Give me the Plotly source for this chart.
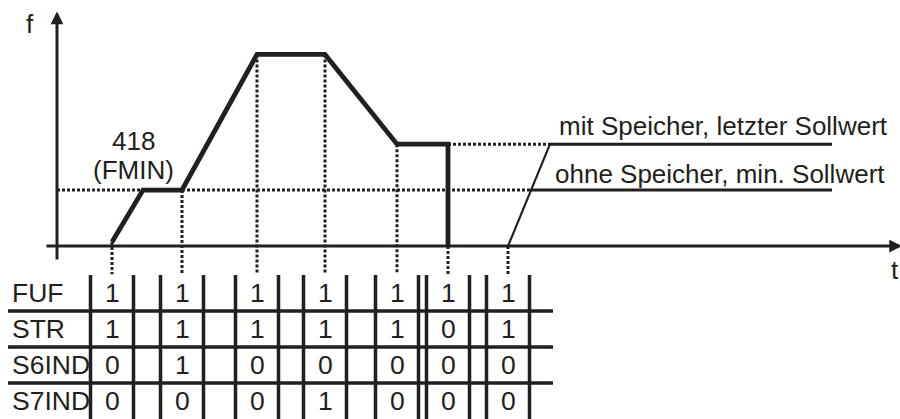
import plotly.graph_objects as go

# frequency course over time (t in s, f in Hz)
t_curve = [5.5, 8.6, 12.5, 20.0, 26.8, 34.0, 39.1, 39.1]
f_curve = [30, 418, 418, 1430, 1430, 760, 760, 0]

f_min = 418   # FMIN
f_mem = 760   # last setpoint (with memory)

# restart after the next start command
t_restart = [45.1, 49.3, 77.5]
f_restart = [0, f_mem, f_mem]
t_fmin_line = [47.4, 77.5]

# times where the status table is read, and f at those times
t_events = [5.5, 12.5, 20.0, 26.8, 34.0, 39.1, 45.1]
f_events = [30, 418, 1430, 1430, 760, 0, 0]

rows = ['FUF', 'STR', 'S6IND', 'S7IND']
FUF = [1, 1, 1, 1, 1, 1, 1]
STR = [1, 1, 1, 1, 1, 0, 1]
S6IND = [0, 1, 0, 0, 0, 0, 0]
S7IND = [0, 0, 0, 1, 0, 0, 0]
table = [FUF, STR, S6IND, S7IND]

ink = '#231f20'
font_name = 'Liberation Sans, Arial, sans-serif'
fs = 26
dots = '3px,2px'
f_bottom = -210
cell_w = 2.15

fig = go.Figure()

# dotted guide lines
fig.add_trace(go.Scatter(x=[0, t_fmin_line[0]], y=[f_min, f_min], mode='lines',
                         line=dict(color=ink, width=3, dash=dots)))
fig.add_trace(go.Scatter(x=[t_curve[-1], t_restart[1]], y=[f_mem, f_mem], mode='lines',
                         line=dict(color=ink, width=3, dash=dots)))
for t, f in zip(t_events, f_events):
    fig.add_trace(go.Scatter(x=[t, t], y=[f, f_bottom], mode='lines',
                             line=dict(color=ink, width=3, dash=dots)))

# restart lines (thin)
fig.add_trace(go.Scatter(x=t_restart[:2], y=f_restart[:2], mode='lines',
                         line=dict(color=ink, width=2.2)))
fig.add_trace(go.Scatter(x=t_restart[1:], y=f_restart[1:], mode='lines',
                         line=dict(color=ink, width=3)))
fig.add_trace(go.Scatter(x=t_fmin_line, y=[f_min, f_min], mode='lines',
                         line=dict(color=ink, width=3)))

# main frequency course
fig.add_trace(go.Scatter(x=t_curve, y=f_curve, mode='lines',
                         line=dict(color=ink, width=4.8)))

# table lines
x_hl = []
y_hl = []
for k in range(1, len(rows)):
    x_hl += [-4.9, 49.6, None]
    y_hl += [k, k, None]
fig.add_trace(go.Scatter(x=x_hl, y=y_hl, mode='lines', yaxis='y2',
                         line=dict(color=ink, width=3.5)))
x_vl = []
y_vl = []
for t in t_events:
    for edge in [t - cell_w, t + cell_w]:
        x_vl += [edge, edge, None]
        y_vl += [0, 4.05, None]
fig.add_trace(go.Scatter(x=x_vl, y=y_vl, mode='lines', yaxis='y2',
                         line=dict(color=ink, width=3.5)))

# table text
for i, name in enumerate(rows):
    yc = len(rows) - i - 0.5
    fig.add_annotation(x=-4.7, y=yc, yref='y2', text=name, showarrow=False,
                       xanchor='left', yanchor='middle',
                       font=dict(family=font_name, size=fs + 0.5, color=ink))
    for t, v in zip(t_events, table[i]):
        fig.add_annotation(x=t, y=yc, yref='y2', text=str(v), showarrow=False,
                           xanchor='center', yanchor='middle',
                           font=dict(family=font_name, size=fs + 0.5, color=ink))

# axes with arrows
fig.add_annotation(x=0, y=1750, ax=0, ay=-112, axref='x', ayref='y',
                   showarrow=True, arrowhead=2, arrowsize=0.85, arrowwidth=3,
                   arrowcolor=ink, text='')
fig.add_annotation(x=84.5, y=0, ax=-1.2, ay=0, axref='x', ayref='y',
                   showarrow=True, arrowhead=2, arrowsize=0.85, arrowwidth=3,
                   arrowcolor=ink, text='')

labels = [
    (-2.7, 1660, 'f', 'center'),
    (83.8, -175, 't', 'center'),
    (7.6, 784, '418', 'center'),
    (7.6, 567, '(FMIN)', 'center'),
    (50.0, 896, 'mit Speicher, letzter Sollwert', 'left'),
    (49.6, 537, 'ohne Speicher, min. Sollwert', 'left'),
]
for x, y, s, anc in labels:
    fig.add_annotation(x=x, y=y, text=s, showarrow=False, xanchor=anc, yanchor='middle',
                       font=dict(family=font_name, size=fs, color=ink))

fig.update_traces(showlegend=False, hoverinfo='skip')

fig.update_layout(
    width=900, height=419,
    margin=dict(l=0, r=0, t=0, b=0),
    paper_bgcolor='white', plot_bgcolor='white',
    xaxis=dict(range=[-5.7, 84.3], visible=False, fixedrange=True),
    yaxis=dict(range=[-216, 1836], domain=[144 / 419, 1], visible=False, fixedrange=True),
    yaxis2=dict(range=[0, 4], domain=[0, 144 / 419], anchor='x', visible=False, fixedrange=True),
)

fig.write_html("out.html", config=dict(displayModeBar=False),
               post_script="document.body.style.margin='0';")
